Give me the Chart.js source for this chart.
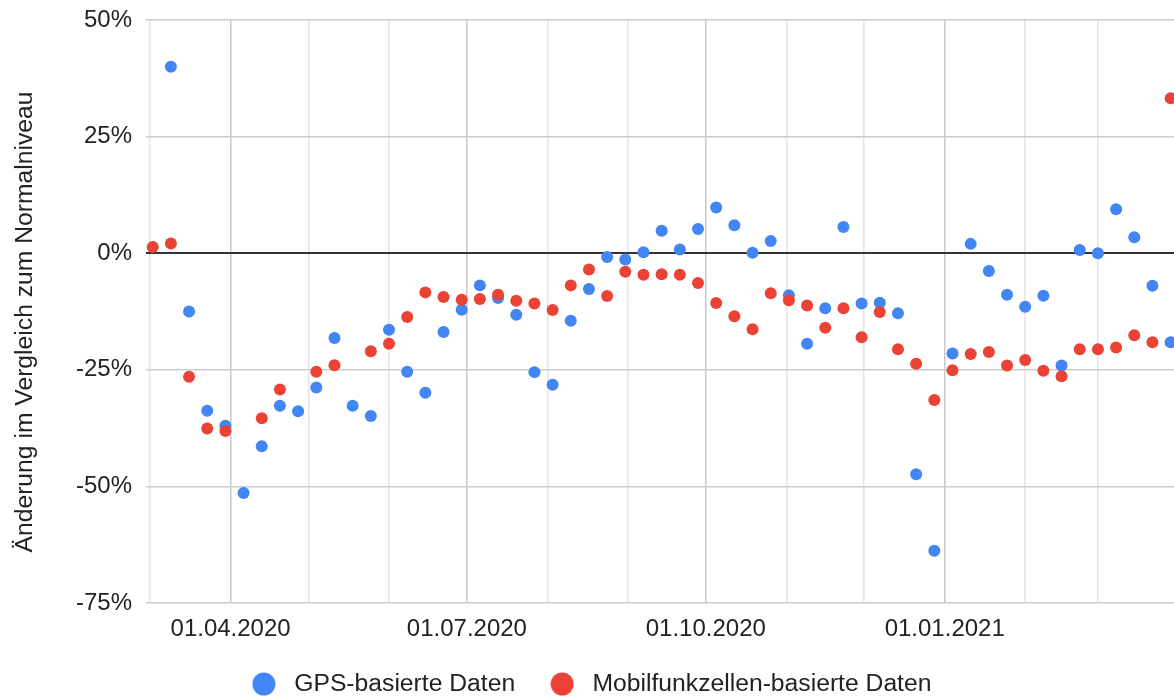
<!DOCTYPE html>
<html><head><meta charset="utf-8">
<script src="https://cdn.jsdelivr.net/npm/chart.js@4.4.0/dist/chart.umd.min.js"></script>
<style>html,body{margin:0;padding:0;background:#fff}canvas{display:block}</style>
</head><body>
<canvas id="c" width="1174" height="698"></canvas>
<script>
// Weekly dates (Mondays)
const weekDates = [
  '2020-03-02','2020-03-09','2020-03-16','2020-03-23','2020-03-30',
  '2020-04-06','2020-04-13','2020-04-20','2020-04-27',
  '2020-05-04','2020-05-11','2020-05-18','2020-05-25',
  '2020-06-01','2020-06-08','2020-06-15','2020-06-22','2020-06-29',
  '2020-07-06','2020-07-13','2020-07-20','2020-07-27',
  '2020-08-03','2020-08-10','2020-08-17','2020-08-24','2020-08-31',
  '2020-09-07','2020-09-14','2020-09-21','2020-09-28',
  '2020-10-05','2020-10-12','2020-10-19','2020-10-26',
  '2020-11-02','2020-11-09','2020-11-16','2020-11-23','2020-11-30',
  '2020-12-07','2020-12-14','2020-12-21','2020-12-28',
  '2021-01-04','2021-01-11','2021-01-18','2021-01-25',
  '2021-02-01','2021-02-08','2021-02-15','2021-02-22',
  '2021-03-01','2021-03-08','2021-03-15','2021-03-22','2021-03-29'
];
// GPS-basierte Daten (%)
const gpsValues = [
  null, 40.0, -12.5, -33.8, -37.0,
  -51.4, -41.4, -32.7, -33.9,
  -28.8, -18.2, -32.7, -34.9,
  -16.4, -25.4, -29.9, -16.9, -12.1,
  -6.9, -9.6, -13.2, -25.5,
  -28.2, -14.5, -7.7, -0.8, -1.35,
  0.2, 4.8, 0.8, 5.2,
  9.8, 6.0, 0.1, 2.6,
  -9.0, -19.4, -11.8, 5.6, -10.8,
  -10.6, -12.9, -47.4, -63.8,
  -21.5, 2.0, -3.8, -8.9,
  -11.5, -9.1, -24.1, 0.7,
  0.0, 9.4, 3.4, -7.0, -19.1
];
// Mobilfunkzellen-basierte Daten (%)
const mobilValues = [
  1.35, 2.1, -26.5, -37.6, -38.1,
  null, -35.4, -29.2, null,
  -25.4, -24.0, null, -21.0,
  -19.4, -13.7, -8.4, -9.4, -10.0,
  -9.8, -8.9, -10.2, -10.8,
  -12.2, -6.9, -3.5, -9.2, -4.0,
  -4.6, -4.5, -4.6, -6.4,
  -10.7, -13.5, -16.3, -8.6,
  -10.1, -11.2, -16.0, -11.8, -18.0,
  -12.6, -20.6, -23.7, -31.5,
  -25.1, -21.6, -21.2, -24.1,
  -22.9, -25.2, -26.4, -20.6,
  -20.6, -20.2, -17.6, -19.1, 33.2
];
const gridDates = [
  '2020-03-01','2020-04-01','2020-05-01','2020-06-01','2020-07-01','2020-08-01',
  '2020-09-01','2020-10-01','2020-11-01','2020-12-01','2021-01-01','2021-02-01','2021-03-01'
];
const labeledDates = ['2020-04-01','2020-07-01','2020-10-01','2021-01-01'];
const yTicks = [50, 25, 0, -25, -50, -75];
const seriesNames = ['GPS-basierte Daten', 'Mobilfunkzellen-basierte Daten'];
const seriesColors = ['#4285F4', '#EA4335'];
const yTitle = 'Änderung im Vergleich zum Normalniveau';

const ORIGIN = Date.UTC(2020, 2, 1);
function toDay(s) { const [y, m, d] = s.split('-').map(Number); return (Date.UTC(y, m - 1, d) - ORIGIN) / 86400000; }
function fmt(s) { const [y, m, d] = s.split('-'); return d + '.' + m + '.' + y; }
const labelMap = {};
labeledDates.forEach(d => { labelMap[toDay(d)] = fmt(d); });

function makeDot(color) {
  const c = document.createElement('canvas');
  c.width = 24; c.height = 24;
  const g = c.getContext('2d');
  g.fillStyle = color;
  g.beginPath(); g.arc(12, 12, 11.5, 0, Math.PI * 2); g.fill();
  return c;
}
const legendDots = seriesColors.map(makeDot);

const FONT = "'Liberation Sans', Arial, sans-serif";
Chart.defaults.font.family = FONT;
Chart.defaults.color = '#222';

function pts(vals) { return weekDates.map((d, i) => ({ x: toDay(d), y: vals[i] })); }

// shift the y-axis title slightly downward (reference title is centred a bit below the plot centre)
const titleShift = {
  id: 'titleShift',
  afterLayout(chart) {
    const s = chart.scales.y;
    s.top += 10.5; s.bottom += 10.5;
  }
};

new Chart(document.getElementById('c'), {
  type: 'scatter',
  data: {
    datasets: [
      { label: seriesNames[0], data: pts(gpsValues), backgroundColor: seriesColors[0], borderColor: seriesColors[0],
        pointRadius: 6, pointHoverRadius: 6, pointBorderWidth: 0, order: 1, clip: false },
      { label: seriesNames[1], data: pts(mobilValues), backgroundColor: seriesColors[1], borderColor: seriesColors[1],
        pointRadius: 6, pointHoverRadius: 6, pointBorderWidth: 0, order: 0, clip: false }
    ]
  },
  plugins: [titleShift],
  options: {
    responsive: false, animation: false, devicePixelRatio: 1,
    layout: { autoPadding: false, padding: { top: 20, left: 3.3, right: 0, bottom: -8.35 } },
    plugins: {
      legend: {
        position: 'bottom',
        labels: {
          usePointStyle: true, pointStyleWidth: 36, boxHeight: 16,
          padding: 29, color: '#222', font: { size: 24.7 },
          sort: (a, b) => a.datasetIndex - b.datasetIndex,
          generateLabels: chart => {
            const items = Chart.defaults.plugins.legend.labels.generateLabels(chart);
            items.forEach(it => { it.pointStyle = legendDots[it.datasetIndex]; });
            return items;
          }
        }
      },
      tooltip: { enabled: false }
    },
    scales: {
      x: {
        type: 'linear', min: -1.58, max: 394.3,
        afterBuildTicks: s => { s.ticks = gridDates.map(d => ({ value: toDay(d) })); },
        afterFit: s => { s.height = 39.65; s.paddingLeft = 0; s.paddingRight = 0; },
        ticks: { autoSkip: false, maxRotation: 0, minRotation: 0, padding: 12, color: '#222',
          font: { size: 24 }, callback: v => labelMap[v] || '' },
        grid: { drawTicks: false, color: c => (labelMap[c.tick.value] ? '#c8c8c8' : '#e4e4e4'), lineWidth: 1.5 },
        border: { display: false }
      },
      y: {
        min: -75, max: 50,
        afterBuildTicks: s => { s.ticks = yTicks.map(v => ({ value: v })); },
        afterFit: s => { s.width = 142.7; s.paddingTop = 0; s.paddingBottom = 0; },
        ticks: { padding: 14, color: '#222', font: { size: 24 }, callback: v => v + '%' },
        grid: { drawTicks: false, color: c => (c.tick.value === 0 ? '#333333' : '#cccccc'),
          lineWidth: c => (c.tick.value === 0 ? 2 : 1.5) },
        border: { display: false },
        title: { display: true, text: yTitle, color: '#222', font: { size: 24.7 }, padding: { top: 7, bottom: 0 } }
      }
    }
  }
});
</script>
</body></html>
